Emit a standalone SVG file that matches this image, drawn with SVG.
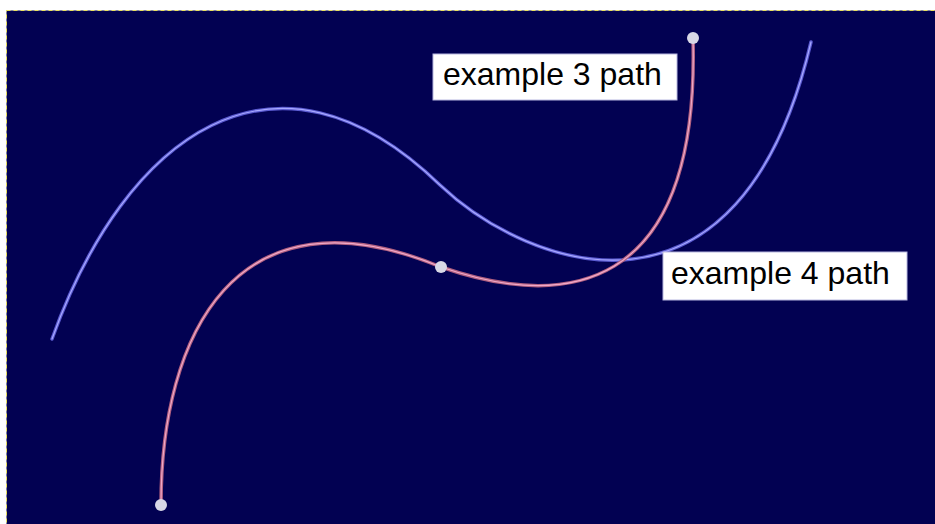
<svg xmlns="http://www.w3.org/2000/svg" width="935" height="524" viewBox="0 0 935 524">
<style>
.lbl{fill:#ffffff;stroke:#b8b8e0;stroke-width:1}
.txt{font-family:"Liberation Sans",Arial,sans-serif;font-size:32px;fill:#000000}
.bo{fill:none;stroke:#5a5ad0;stroke-width:3.5;stroke-linecap:round}
.bi{fill:none;stroke:#a8a8ff;stroke-width:1.2;stroke-linecap:round}
.po{fill:none;stroke:#b06080;stroke-width:3.5;stroke-linecap:round}
.pi{fill:none;stroke:#f0a8c8;stroke-width:1.2;stroke-linecap:round}
.pt{fill:#d8d8e6}
</style>
<rect x="6.5" y="10.5" width="940" height="520" fill="#020152" stroke="#e8e060" stroke-width="1" stroke-dasharray="4,3"/>
<g id="connectors">
<path class="bo" d="M52,339 C125,135 275,25 440,185 C530,270 740,345 811,42"/>
<path class="bi" d="M52,339 C125,135 275,25 440,185 C530,270 740,345 811,42"/>
<path class="po" d="M161,505 C161,335 235,182 441,267 C560,308 700,300 693,38"/>
<path class="pi" d="M161,505 C161,335 235,182 441,267 C560,308 700,300 693,38"/>
</g>
<g id="p1"><circle class="pt" cx="161" cy="505" r="6"/></g>
<g id="p2"><circle class="pt" cx="441" cy="267" r="6"/></g>
<g id="p3"><circle class="pt" cx="693" cy="38" r="6"/></g>
<g id="label3"><rect class="lbl" x="433" y="54" width="244" height="46"/><text class="txt" x="443" y="85">example 3 path</text></g>
<g id="label4"><rect class="lbl" x="663" y="252" width="244" height="48"/><text class="txt" x="671" y="284">example 4 path</text></g>
</svg>
